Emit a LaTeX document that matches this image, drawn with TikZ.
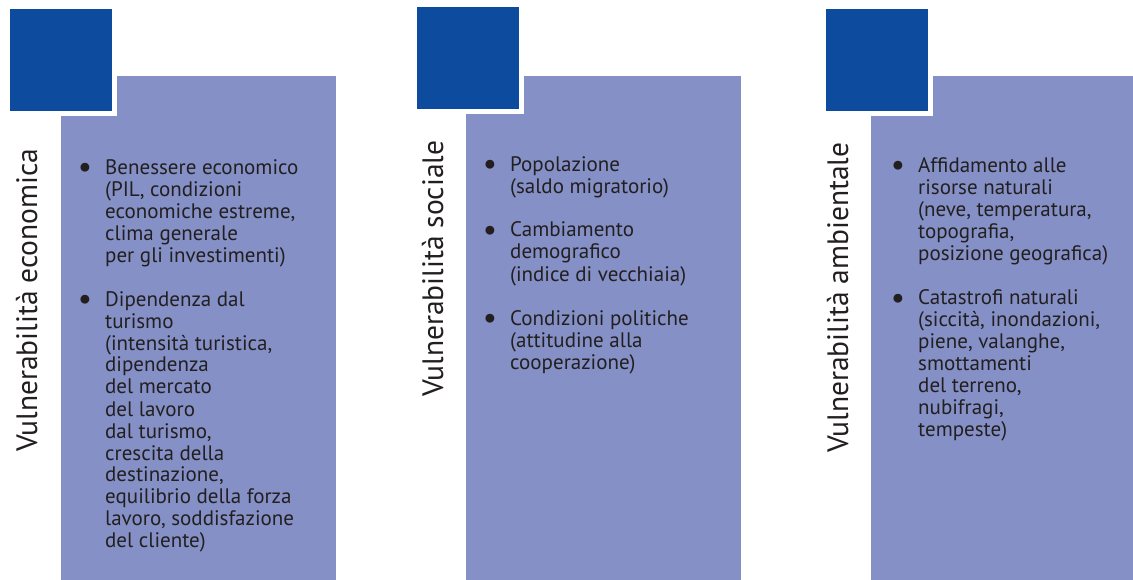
\documentclass[tikz,border=0pt]{standalone}
\usepackage{fontspec}
\setmainfont{PT Sans}
\usepackage{xcolor}
\usepackage{graphicx}
\usepackage{tikz}

\definecolor{squareblue}{RGB}{13,75,158}
\definecolor{panelblue}{RGB}{132,144,198}
\definecolor{textgray}{RGB}{35,31,32}

\newcommand{\bul}{\llap{\raisebox{-3pt}{\scalebox{1.5}{\textbullet}}\hspace{13pt}}}

\tikzset{
    panel/.style={shape=rectangle,fill=panelblue,anchor=north west,inner sep=0pt,minimum width=275pt,minimum height=504pt},
    corner/.style={shape=rectangle,fill=squareblue,draw=white,line width=5pt,minimum size=107pt,inner sep=0pt},
    vtitle/.style={rotate=90,anchor=base west,inner sep=0pt,text=textgray,font=\fontsize{29.5}{34}\selectfont},
    entry/.style={anchor=base west,inner sep=0pt,text=textgray,font=\fontsize{21}{22}\selectfont}
}

\begin{document}
\begin{tikzpicture}[x=1pt,y=-1pt]
    \useasboundingbox (0,0) rectangle (1133,580);

    \node[panel] (p1) at (61,76) {};
    \node[panel] (p2) at (466,76) {};
    \node[panel,minimum width=262pt] (p3) at (871,76) {};

    \node[corner] (s1) at (61,60.5) {};
    \node[corner] (s2) at (468,58.5) {};
    \node[corner] (s3) at (876.5,60.5) {};

    \node[vtitle] (t1) at (37,452) {Vulnerabilità economica};
    \node[vtitle] (t2) at (443,397) {Vulnerabilità sociale};
    \node[vtitle] (t3) at (848,453) {Vulnerabilità ambientale};

    % economica
    \node[entry] (e1) at (105,175) {\begin{tabular}[t]{@{}l@{}}\bul Benessere economico\\(PIL, condizioni\\economiche estreme,\\clima generale\\per gli investimenti)\end{tabular}};
    \node[entry] (e2) at (105,306) {\begin{tabular}[t]{@{}l@{}}\bul Dipendenza dal\\turismo\\(intensità turistica,\\dipendenza\\del mercato\\del lavoro\\dal turismo,\\crescita della\\destinazione,\\equilibrio della forza\\lavoro, soddisfazione\\del cliente)\end{tabular}};

    % sociale
    \node[entry] (f1) at (510,172) {\begin{tabular}[t]{@{}l@{}}\bul Popolazione\\(saldo migratorio)\end{tabular}};
    \node[entry] (f2) at (510,237) {\begin{tabular}[t]{@{}l@{}}\bul Cambiamento\\demografico\\(indice di vecchiaia)\end{tabular}};
    \node[entry] (f3) at (510,325) {\begin{tabular}[t]{@{}l@{}}\bul Condizioni politiche\\(attitudine alla\\cooperazione)\end{tabular}};

    % ambientale
    \node[entry] (g1) at (918,173) {\begin{tabular}[t]{@{}l@{}}\bul Affidamento alle\\risorse naturali\\(neve, temperatura,\\topografia,\\posizione geografica)\end{tabular}};
    \node[entry] (g2) at (918,305) {\begin{tabular}[t]{@{}l@{}}\bul Catastrofi naturali\\(siccità, inondazioni,\\piene, valanghe,\\smottamenti\\del terreno,\\nubifragi,\\tempeste)\end{tabular}};
\end{tikzpicture}
\end{document}
